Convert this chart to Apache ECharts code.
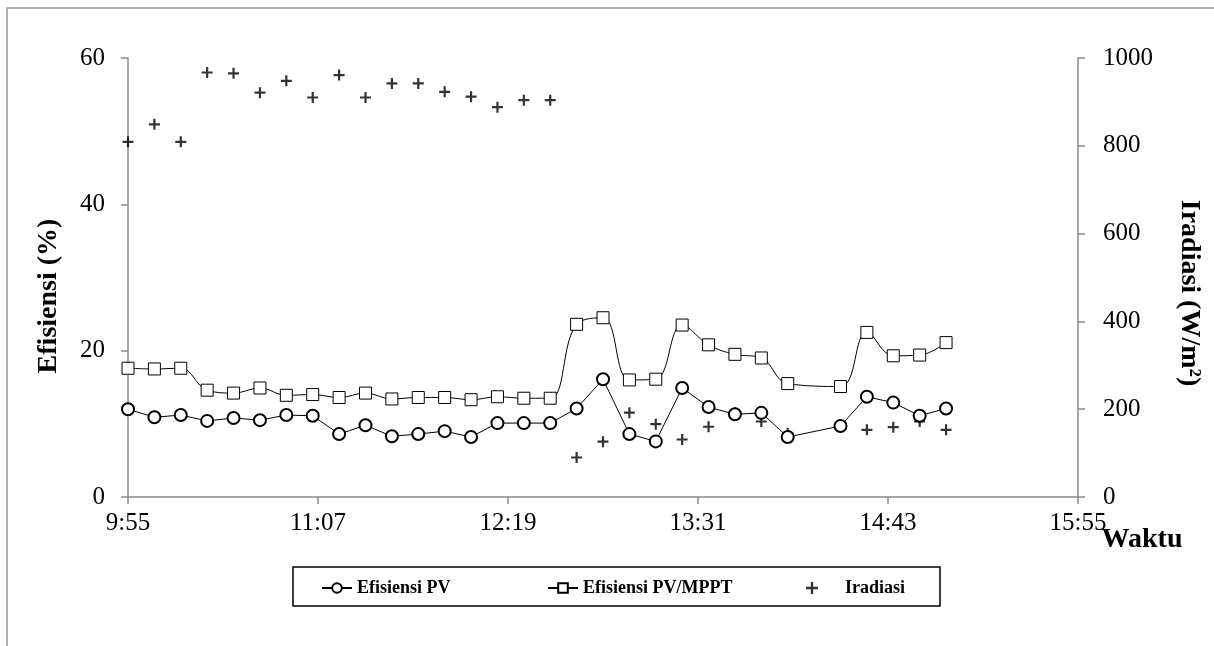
<!DOCTYPE html>
<html>
<head>
<meta charset="utf-8">
<script src="https://cdn.jsdelivr.net/npm/echarts@6/dist/echarts.min.js"></script>
<style>
html,body{margin:0;padding:0;background:#fff;}
#chart{width:1214px;height:646px;}
</style>
</head>
<body>
<div id="chart"></div>
<script>
// Sample times (14:15 missing in the source)
const times = ['9:55','10:05','10:15','10:25','10:35','10:45','10:55','11:05','11:15','11:25',
  '11:35','11:45','11:55','12:05','12:15','12:25','12:35','12:45','12:55','13:05',
  '13:15','13:25','13:35','13:45','13:55','14:05','14:25','14:35','14:45','14:55','15:05'];
// Efisiensi PV (%)
const effPV = [12.0,10.9,11.2,10.4,10.8,10.5,11.2,11.1,8.6,9.8,
  8.3,8.6,9.0,8.2,10.1,10.1,10.1,12.1,16.1,8.6,
  7.6,14.9,12.3,11.3,11.5,8.2,9.7,13.7,12.9,11.1,12.1];
// Efisiensi PV/MPPT (%)
const effMPPT = [17.6,17.5,17.6,14.6,14.2,14.9,13.9,14.0,13.6,14.2,
  13.4,13.6,13.6,13.3,13.7,13.5,13.5,23.6,24.5,16.0,
  16.1,23.5,20.8,19.5,19.0,15.5,15.1,22.5,19.3,19.4,21.1];
// Iradiasi (W/m2)
const irr = [809,849,809,967,965,921,948,910,961,910,
  942,942,923,912,888,904,904,90,126,192,
  166,131,160,192,172,145,160,153,159,172,153];
// Axis tick labels
const xTickLabels = ['9:55','11:07','12:19','13:31','14:43','15:55'];
const leftTicks = [0,20,40,60];
const rightTicks = [0,200,400,600,800,1000];

function toMin(t){ const p=t.split(':'); return (+p[0])*60 + (+p[1]); }
const t0 = toMin(times[0]);
const xs = times.map(t => toMin(t) - t0);
const xMax = toMin(xTickLabels[xTickLabels.length-1]) - t0;
const xInt = toMin(xTickLabels[1]) - t0;

const FONT = 'Liberation Serif';
const AX = '#8a8a8a';
const plus = 'path://M4,0H6V4H10V6H6V10H4V6H0V4H4Z';

const chart = echarts.init(document.getElementById('chart'));
const legendText = {fontFamily: FONT, fontWeight: 'bold', fontSize: 18, color: '#000'};
chart.setOption({
  animation: false,
  backgroundColor: '#fff',
  grid: {left: 128, right: 136, top: 58, bottom: 149, containLabel: false},
  xAxis: {
    type: 'value', min: 0, max: xMax, interval: xInt,
    axisLine: {lineStyle: {color: AX, width: 1.5}},
    axisTick: {show: true, length: 7, lineStyle: {color: AX, width: 1.5}},
    splitLine: {show: false},
    axisLabel: {
      fontFamily: FONT, fontSize: 25, color: '#000', margin: 14,
      formatter: v => { const i = Math.round(v / xInt); return xTickLabels[i] || ''; }
    }
  },
  yAxis: [
    {type: 'value', min: leftTicks[0], max: leftTicks[leftTicks.length-1], interval: leftTicks[1]-leftTicks[0],
     position: 'left',
     axisLine: {show: true, lineStyle: {color: AX, width: 1.5}},
     axisTick: {show: true, length: 7, lineStyle: {color: AX, width: 1.5}},
     splitLine: {show: false},
     axisLabel: {fontFamily: FONT, fontSize: 25, color: '#000', margin: 23, formatter: v => String(v)}},
    {type: 'value', min: rightTicks[0], max: rightTicks[rightTicks.length-1], interval: rightTicks[1]-rightTicks[0],
     position: 'right',
     axisLine: {show: true, lineStyle: {color: AX, width: 1.5}},
     axisTick: {show: true, length: 7, lineStyle: {color: AX, width: 1.5}},
     splitLine: {show: false},
     axisLabel: {fontFamily: FONT, fontSize: 25, color: '#000', margin: 25, formatter: v => String(v)}}
  ],
  legend: [
    {data: ['Efisiensi PV'], left: 321, top: 579, itemWidth: 30, itemHeight: 12, padding: 0, textStyle: legendText},
    {data: ['Efisiensi PV/MPPT'], left: 547, top: 579, itemWidth: 30, itemHeight: 12, padding: 0, textStyle: legendText},
    {data: ['Iradiasi'], left: 806, top: 579, itemWidth: 12, itemHeight: 12, padding: 0,
     textStyle: Object.assign({padding: [0,0,0,22]}, legendText)}
  ],
  graphic: [
    {type: 'rect', shape: {x: 7, y: 8, width: 1300, height: 700}, silent: true,
     style: {fill: 'none', stroke: '#999', lineWidth: 1.5}, z: -10},
    {type: 'rect', shape: {x: 293, y: 567, width: 647, height: 39}, silent: true,
     style: {fill: 'none', stroke: '#000', lineWidth: 1.5}},
    {type: 'text', x: 49, y: 296, rotation: Math.PI/2,
     style: {text: 'Efisiensi (%)', fontFamily: FONT, fontWeight: 'bold', fontSize: 28, fill: '#000',
             align: 'center', verticalAlign: 'middle'}},
    {type: 'text', x: 1189, y: 293, rotation: -Math.PI/2,
     style: {text: 'Iradiasi (W/m²)', fontFamily: FONT, fontWeight: 'bold', fontSize: 28, fill: '#000',
             align: 'center', verticalAlign: 'middle'}},
    {type: 'text', x: 1142, y: 540,
     style: {text: 'Waktu', fontFamily: FONT, fontWeight: 'bold', fontSize: 28, fill: '#000',
             align: 'center', verticalAlign: 'middle'}}
  ],
  series: [
    {name: 'Efisiensi PV', type: 'line', yAxisIndex: 0,
     data: xs.map((x,i) => [x, effPV[i]]),
     symbol: 'emptyCircle', symbolSize: 12,
     lineStyle: {color: '#000', width: 1},
     itemStyle: {color: '#000', borderColor: '#000', borderWidth: 1}},
    {name: 'Efisiensi PV/MPPT', type: 'line', yAxisIndex: 0, smooth: 0.4,
     data: xs.map((x,i) => [x, effMPPT[i]]),
     symbol: 'rect', symbolSize: 12,
     lineStyle: {color: '#000', width: 1},
     itemStyle: {color: '#fff', borderColor: '#000', borderWidth: 1}},
    {name: 'Iradiasi', type: 'scatter', yAxisIndex: 1,
     data: xs.map((x,i) => [x, irr[i]]),
     symbol: plus, symbolSize: 11,
     itemStyle: {color: '#000'}}
  ]
});
</script>
</body>
</html>
